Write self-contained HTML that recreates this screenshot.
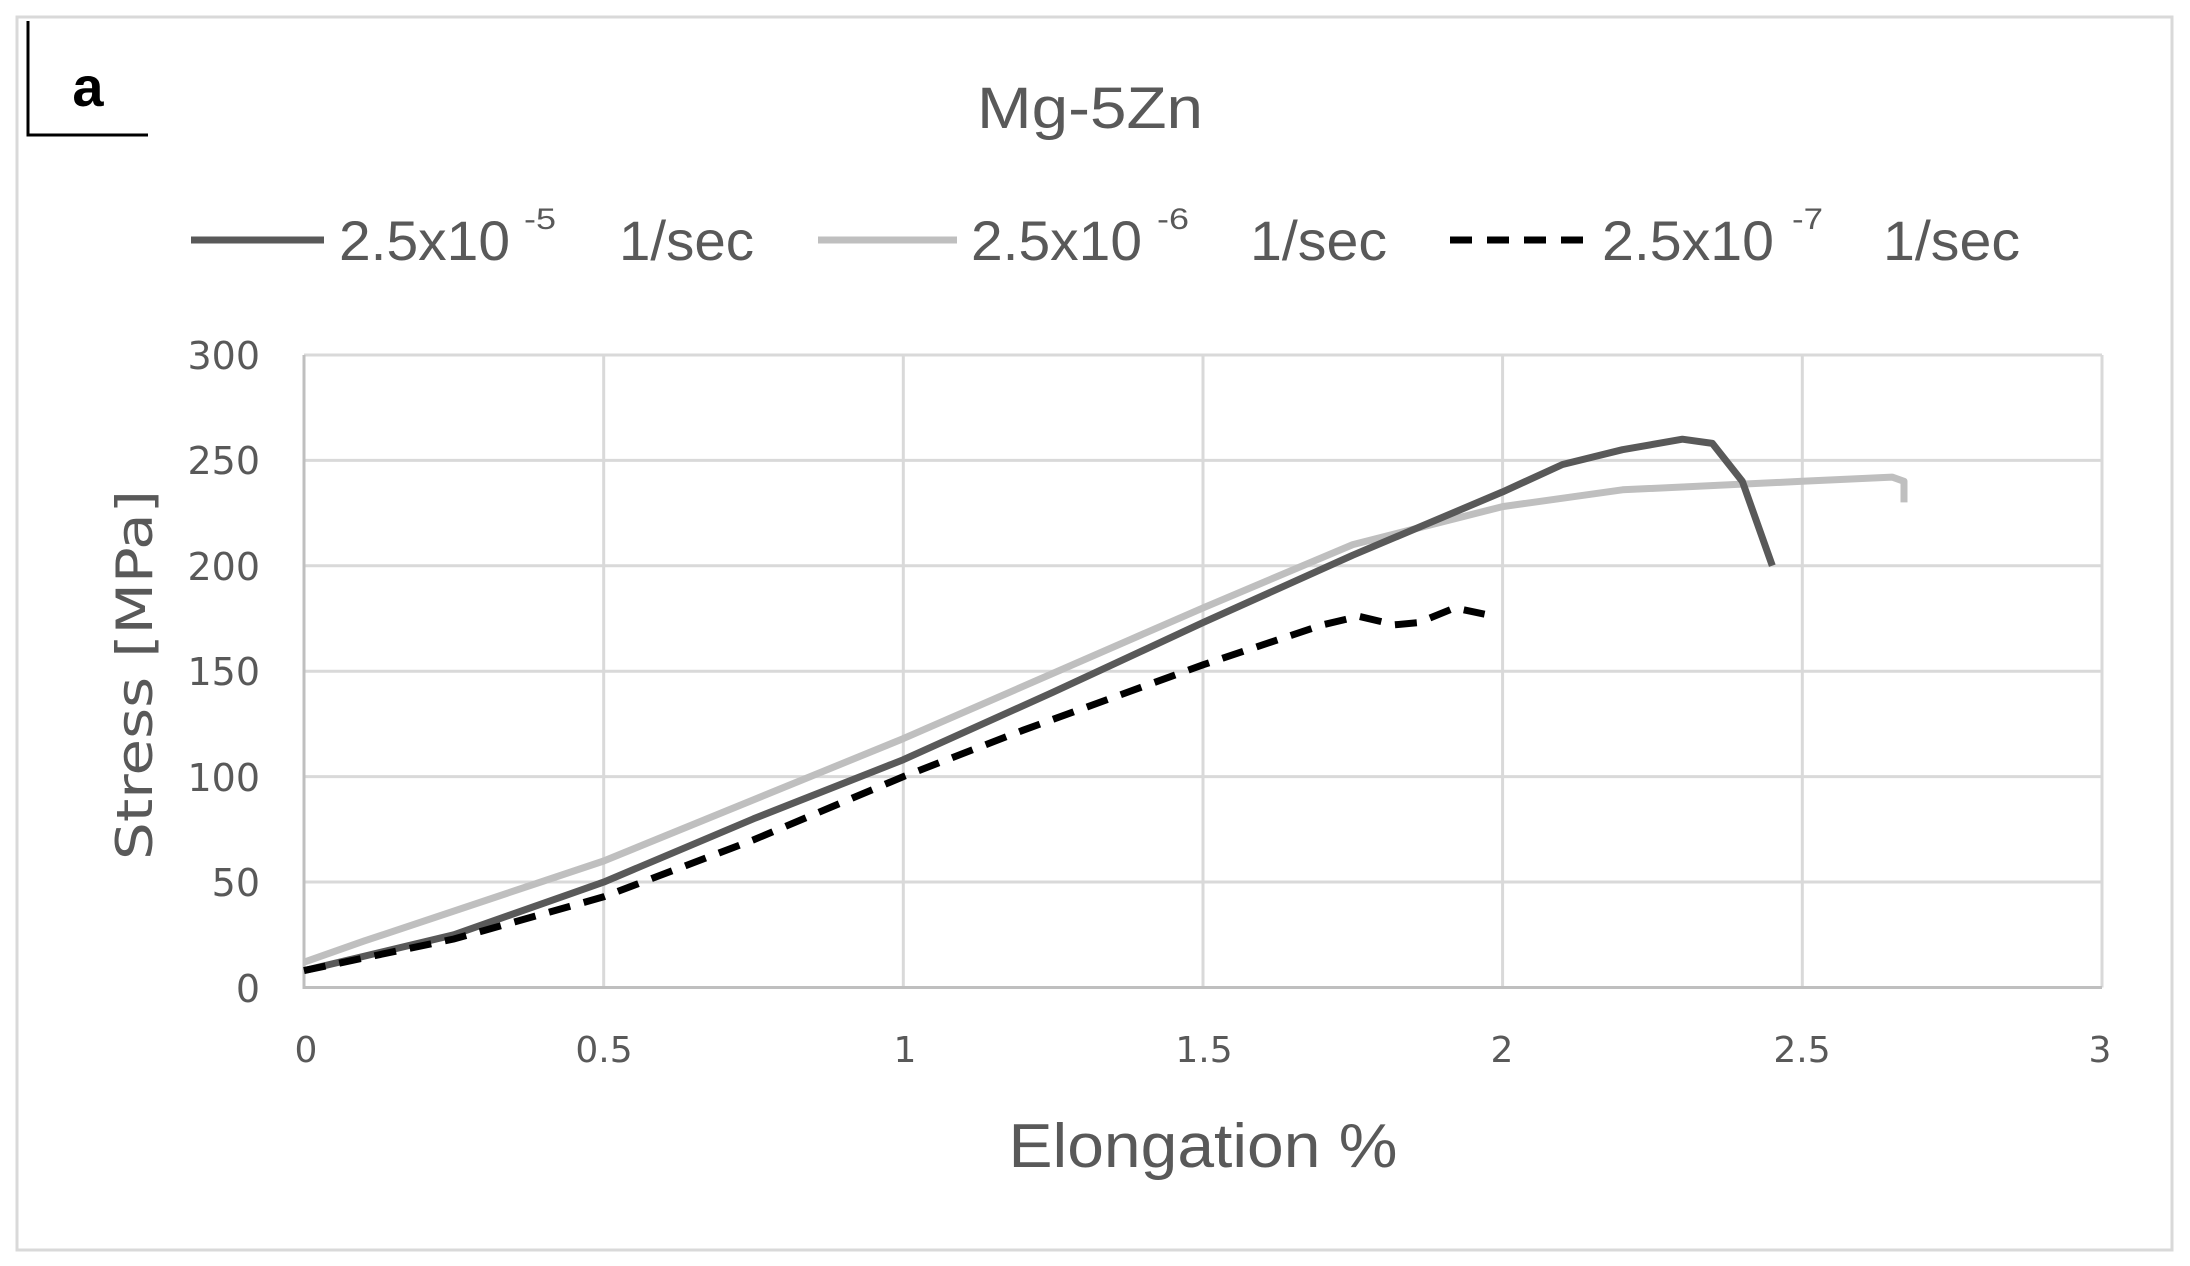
<!DOCTYPE html>
<html><head><meta charset="utf-8"><style>html,body{margin:0;padding:0;background:#fff}svg{display:block}</style></head>
<body>
<svg width="2190" height="1266" xmlns="http://www.w3.org/2000/svg">
<rect x="0" y="0" width="2190" height="1266" fill="#fff"/>
<rect x="17" y="17" width="2155" height="1233" fill="none" stroke="#d9d9d9" stroke-width="3"/>
<polyline points="28,21 28,135 148,135" fill="none" stroke="#000" stroke-width="3"/>
<text x="88" y="106" font-family="Liberation Sans, sans-serif" font-weight="bold" font-size="56" text-anchor="middle" fill="#000">a</text>
<text x="1090" y="128" font-family="Liberation Sans, sans-serif" font-size="58" text-anchor="middle" fill="#595959" textLength="226" lengthAdjust="spacingAndGlyphs">Mg-5Zn</text>
<g font-family="Liberation Sans, sans-serif" fill="#595959">
<line x1="191" y1="240" x2="324" y2="240" stroke="#595959" stroke-width="7"/>
<text x="339" y="260" font-size="56" textLength="171" lengthAdjust="spacingAndGlyphs">2.5x10</text>
<text x="524" y="229" font-size="30" textLength="32" lengthAdjust="spacingAndGlyphs">-5</text>
<text x="619" y="260" font-size="56" textLength="135" lengthAdjust="spacingAndGlyphs">1/sec</text>
<line x1="818" y1="240" x2="957" y2="240" stroke="#bfbfbf" stroke-width="7"/>
<text x="971" y="260" font-size="56" textLength="171" lengthAdjust="spacingAndGlyphs">2.5x10</text>
<text x="1157" y="229" font-size="30" textLength="32" lengthAdjust="spacingAndGlyphs">-6</text>
<text x="1250" y="260" font-size="56" textLength="137" lengthAdjust="spacingAndGlyphs">1/sec</text>
<line x1="1450" y1="240" x2="1588" y2="240" stroke="#000" stroke-width="7" stroke-dasharray="22,15"/>
<text x="1602" y="260" font-size="56" textLength="172" lengthAdjust="spacingAndGlyphs">2.5x10</text>
<text x="1792" y="229" font-size="30" textLength="31" lengthAdjust="spacingAndGlyphs">-7</text>
<text x="1883" y="260" font-size="56" textLength="137" lengthAdjust="spacingAndGlyphs">1/sec</text>
</g>
<g stroke="#d9d9d9" stroke-width="3">
<line x1="304" y1="355" x2="2102" y2="355"/>
<line x1="304" y1="460.4" x2="2102" y2="460.4"/>
<line x1="304" y1="565.8" x2="2102" y2="565.8"/>
<line x1="304" y1="671.2" x2="2102" y2="671.2"/>
<line x1="304" y1="776.6" x2="2102" y2="776.6"/>
<line x1="304" y1="882" x2="2102" y2="882"/>
<line x1="603.7" y1="355" x2="603.7" y2="987.5"/>
<line x1="903.3" y1="355" x2="903.3" y2="987.5"/>
<line x1="1203" y1="355" x2="1203" y2="987.5"/>
<line x1="1502.6" y1="355" x2="1502.6" y2="987.5"/>
<line x1="1802.3" y1="355" x2="1802.3" y2="987.5"/>
<line x1="2102" y1="355" x2="2102" y2="987.5"/>
</g>
<polyline points="304,355 304,987.5 2102,987.5" fill="none" stroke="#bfbfbf" stroke-width="3"/>
<g font-family="DejaVu Sans, sans-serif" font-size="38" fill="#595959" text-anchor="end">
<text x="260" y="369">300</text><text x="260" y="474">250</text><text x="260" y="580">200</text>
<text x="260" y="685">150</text><text x="260" y="791">100</text><text x="260" y="896">50</text><text x="260" y="1002">0</text>
</g>
<g font-family="DejaVu Sans, sans-serif" font-size="36" fill="#595959" text-anchor="middle">
<text x="306" y="1062">0</text><text x="604" y="1062">0.5</text><text x="905" y="1062">1</text>
<text x="1204" y="1062">1.5</text><text x="1502" y="1062">2</text><text x="1802" y="1062">2.5</text><text x="2100" y="1062">3</text>
</g>
<text transform="translate(152,675) rotate(-90)" font-family="DejaVu Sans, sans-serif" font-size="50" fill="#595959" text-anchor="middle" textLength="370" lengthAdjust="spacingAndGlyphs">Stress [MPa]</text>
<text x="1203" y="1167" font-family="Liberation Sans, sans-serif" font-size="62" fill="#595959" text-anchor="middle" textLength="389" lengthAdjust="spacingAndGlyphs">Elongation %</text>
<polyline fill="none" stroke="#bfbfbf" stroke-width="7" stroke-linejoin="round" points="304,962.2 363.9,941.1 603.7,861 903.3,738.6 1203,607.9 1352.8,544.6 1502.6,506.6 1622.5,489.8 1802.3,481.3 1892.1,477.1 1904,481.3 1904,502.4"/>
<polyline fill="none" stroke="#595959" stroke-width="7" stroke-linejoin="round" points="304,970.6 453.8,934.8 603.7,882.1 753.5,818.8 903.3,759.7 1053.1,692.2 1203,622.6 1352.8,555.2 1502.6,491.9 1562.5,464.5 1622.5,449.7 1682.4,439.2 1712.4,443.4 1742.3,481.3 1772.3,565.7"/>
<polyline fill="none" stroke="#000" stroke-width="7" stroke-dasharray="22,14" points="304,970.6 453.8,939 483.8,930.6 603.7,896.8 753.5,839.9 903.3,776.6 1023.2,730.2 1203,664.8 1322.8,624.8 1358.8,616.3 1394.7,624.8 1418.7,622.6 1454.7,607.9 1484.6,614.2"/>
</svg>
</body></html>
